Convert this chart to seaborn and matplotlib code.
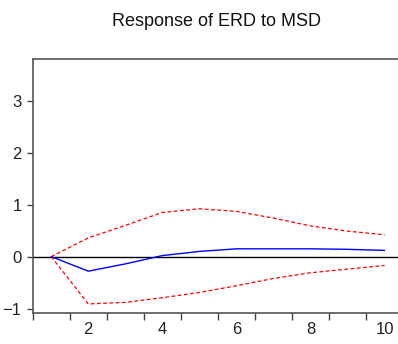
import numpy as np
import pandas as pd
import seaborn as sns
import matplotlib.pyplot as plt

periods = [1, 2, 3, 4, 5, 6, 7, 8, 9, 10]
response = [0.0, -0.28, -0.14, 0.02, 0.10, 0.15, 0.15, 0.15, 0.14, 0.12]
upper = [0.0, 0.36, 0.60, 0.85, 0.92, 0.87, 0.74, 0.59, 0.49, 0.42]
lower = [0.0, -0.91, -0.88, -0.79, -0.69, -0.56, -0.42, -0.31, -0.24, -0.17]

df = pd.DataFrame({"period": periods, "response": response, "upper": upper, "lower": lower})

sns.set_style("white")
plt.rcParams['font.family'] = ['Liberation Sans', 'DejaVu Sans']

fig = plt.figure(figsize=(3.98, 3.44), dpi=100)
ax = fig.add_axes([32.7 / 398, 1 - 313.3 / 344, 370.5 / 398, (313.3 - 59) / 344])

ax.axhline(0, color="black", lw=1.0, zorder=1)
sns.lineplot(data=df, x="period", y="upper", ax=ax, color="red", lw=0.9, linestyle=(0, (3, 2)))
sns.lineplot(data=df, x="period", y="lower", ax=ax, color="red", lw=0.9, linestyle=(0, (3, 2)))
sns.lineplot(data=df, x="period", y="response", ax=ax, color="blue", lw=1.0)

ax.set_xlim(0.5, 10.5)
ax.set_ylim(-1.09, 3.8)

# ticks between periods, labels on even periods
ax.set_xticks(np.arange(0.5, 11, 1.0))
ax.set_xticklabels([])
ax.set_xticks([2, 4, 6, 8, 10], minor=True)
ax.set_xticklabels(["2", "4", "6", "8", "10"], minor=True)
ax.tick_params(axis="x", which="major", direction="out", length=5, width=1, color="#444444", bottom=True)
ax.tick_params(axis="x", which="minor", length=0, pad=6, labelsize=12, labelcolor="#222222")
ax.set_yticks([-1, 0, 1, 2, 3])
ax.tick_params(axis="y", direction="out", length=4, width=1, color="#444444", left=True, labelsize=12,
               labelcolor="#222222", pad=4)

ax.set_xlabel("")
ax.set_ylabel("")
for side in ["left", "top", "bottom"]:
    ax.spines[side].set_color("#555555")
    ax.spines[side].set_linewidth(1.2)
ax.spines["right"].set_visible(False)

fig.text(217 / 398, 1 - 22 / 344, "Response of ERD to MSD", ha="center", va="center", fontsize=13,
         color="#111111")

fig.savefig("out.png", dpi=100)
